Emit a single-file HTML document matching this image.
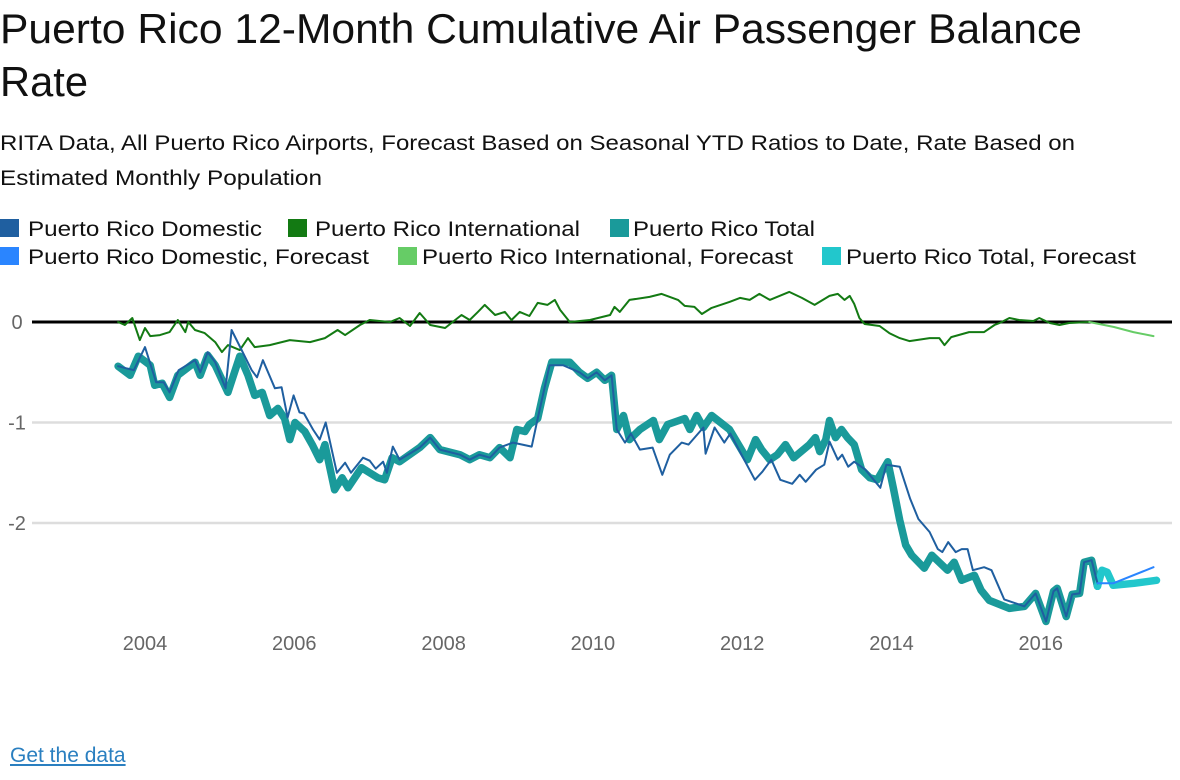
<!DOCTYPE html>
<html><head><meta charset="utf-8"><style>
body{margin:0;background:#fff;width:1180px;height:780px;overflow:hidden;font-family:"Liberation Sans",sans-serif}
a{color:#2a7fc0}
</style></head><body>
<svg width="1180" height="780" style="position:absolute;left:0;top:0">
<text x="0" y="43" font-size="42" fill="#111" textLength="1082" lengthAdjust="spacingAndGlyphs">Puerto Rico 12-Month Cumulative Air Passenger Balance</text>
<text x="0" y="96" font-size="42" fill="#111" textLength="88" lengthAdjust="spacingAndGlyphs">Rate</text>
<text x="0" y="150" font-size="21" fill="#111" textLength="1075" lengthAdjust="spacingAndGlyphs">RITA Data, All Puerto Rico Airports, Forecast Based on Seasonal YTD Ratios to Date, Rate Based on</text>
<text x="0" y="185" font-size="21" fill="#111" textLength="322" lengthAdjust="spacingAndGlyphs">Estimated Monthly Population</text>
<g id="legend"></g>
<g id="grid"></g>
<g id="plot"></g>
</svg>
<a href="#" style="position:absolute;left:10px;top:744px;font-size:21px">Get the data</a>
<script>
const yTicks=[0,-1,-2];
const xTicks=[2004,2006,2008,2010,2012,2014,2016];
const legendLabels=["Puerto Rico Domestic","Puerto Rico International","Puerto Rico Total","Puerto Rico Domestic, Forecast","Puerto Rico International, Forecast","Puerto Rico Total, Forecast"];
const totalDates=[2003.64,2003.80,2003.91,2004.07,2004.13,2004.23,2004.33,2004.44,2004.67,2004.74,2004.84,2004.94,2005.11,2005.27,2005.38,2005.47,2005.57,2005.67,2005.78,2005.87,2005.94,2006.01,2006.14,2006.24,2006.34,2006.41,2006.54,2006.64,2006.72,2006.90,2007.12,2007.21,2007.31,2007.41,2007.68,2007.82,2007.95,2008.22,2008.35,2008.48,2008.62,2008.75,2008.89,2008.98,2009.09,2009.15,2009.26,2009.35,2009.45,2009.69,2009.82,2009.93,2010.05,2010.16,2010.25,2010.32,2010.41,2010.49,2010.63,2010.81,2010.89,2011.00,2011.23,2011.30,2011.39,2011.48,2011.59,2011.83,2012.07,2012.18,2012.26,2012.37,2012.47,2012.58,2012.69,2012.90,2012.98,2013.04,2013.12,2013.17,2013.25,2013.33,2013.41,2013.50,2013.60,2013.71,2013.81,2013.95,2014.03,2014.11,2014.19,2014.27,2014.44,2014.54,2014.75,2014.84,2014.94,2015.11,2015.20,2015.31,2015.58,2015.78,2015.93,2016.07,2016.17,2016.22,2016.34,2016.42,2016.52,2016.58,2016.68,2016.76];
const totalValues=[-0.44,-0.53,-0.34,-0.43,-0.63,-0.61,-0.75,-0.53,-0.40,-0.53,-0.33,-0.43,-0.70,-0.34,-0.53,-0.73,-0.70,-0.93,-0.86,-0.96,-1.17,-1.00,-1.09,-1.22,-1.37,-1.22,-1.67,-1.55,-1.65,-1.45,-1.55,-1.57,-1.35,-1.39,-1.25,-1.15,-1.27,-1.32,-1.37,-1.32,-1.35,-1.25,-1.35,-1.07,-1.09,-1.02,-0.96,-0.66,-0.40,-0.40,-0.50,-0.56,-0.50,-0.58,-0.53,-1.07,-0.93,-1.17,-1.07,-0.98,-1.17,-1.02,-0.96,-1.07,-0.93,-1.05,-0.93,-1.07,-1.37,-1.17,-1.27,-1.37,-1.32,-1.22,-1.35,-1.22,-1.15,-1.29,-1.17,-0.98,-1.15,-1.07,-1.15,-1.22,-1.47,-1.55,-1.57,-1.39,-1.67,-1.97,-2.22,-2.32,-2.45,-2.32,-2.47,-2.39,-2.57,-2.52,-2.67,-2.77,-2.85,-2.83,-2.70,-2.98,-2.68,-2.65,-2.93,-2.71,-2.70,-2.39,-2.37,-2.63];
const totalFcDates=[2016.76,2016.82,2016.89,2016.97,2017.25,2017.55];
const totalFcValues=[-2.63,-2.47,-2.49,-2.62,-2.60,-2.57];
const domDates=[2003.64,2003.85,2004.00,2004.15,2004.25,2004.33,2004.45,2004.67,2004.74,2004.84,2004.94,2005.08,2005.16,2005.43,2005.50,2005.58,2005.74,2005.83,2005.91,2005.99,2006.07,2006.13,2006.25,2006.34,2006.42,2006.57,2006.68,2006.76,2006.92,2007.01,2007.09,2007.19,2007.24,2007.32,2007.41,2007.68,2007.82,2007.95,2008.22,2008.35,2008.48,2008.62,2008.75,2008.93,2009.18,2009.26,2009.42,2009.60,2009.82,2009.93,2010.05,2010.16,2010.25,2010.32,2010.43,2010.51,2010.63,2010.80,2010.93,2011.03,2011.19,2011.28,2011.48,2011.51,2011.63,2011.76,2011.84,2012.17,2012.27,2012.39,2012.51,2012.67,2012.77,2012.85,2012.99,2013.10,2013.17,2013.28,2013.34,2013.42,2013.50,2013.65,2013.85,2013.93,2014.11,2014.25,2014.36,2014.51,2014.62,2014.68,2014.76,2014.86,2014.94,2015.02,2015.09,2015.24,2015.34,2015.51,2015.78,2015.93,2016.07,2016.17,2016.22,2016.34,2016.42,2016.52,2016.58,2016.68,2016.76];
const domValues=[-0.44,-0.48,-0.25,-0.60,-0.60,-0.70,-0.48,-0.38,-0.50,-0.30,-0.40,-0.66,-0.08,-0.48,-0.55,-0.38,-0.66,-0.65,-0.95,-0.73,-0.90,-0.91,-1.07,-1.17,-1.00,-1.50,-1.40,-1.50,-1.35,-1.38,-1.46,-1.39,-1.50,-1.24,-1.37,-1.25,-1.15,-1.27,-1.32,-1.37,-1.32,-1.35,-1.25,-1.20,-1.24,-0.96,-0.43,-0.43,-0.50,-0.56,-0.50,-0.58,-0.53,-1.07,-1.20,-1.11,-1.27,-1.25,-1.52,-1.32,-1.20,-1.22,-1.05,-1.31,-1.05,-1.20,-1.11,-1.57,-1.49,-1.37,-1.57,-1.61,-1.52,-1.59,-1.47,-1.42,-1.19,-1.37,-1.32,-1.44,-1.39,-1.47,-1.65,-1.42,-1.44,-1.76,-1.96,-2.09,-2.26,-2.29,-2.19,-2.29,-2.26,-2.26,-2.47,-2.44,-2.47,-2.76,-2.83,-2.70,-2.98,-2.68,-2.65,-2.93,-2.71,-2.70,-2.39,-2.37,-2.60];
const domFcDates=[2016.76,2016.97,2017.51];
const domFcValues=[-2.60,-2.60,-2.44];
const intlDates=[2003.64,2003.73,2003.83,2003.93,2004.00,2004.07,2004.20,2004.33,2004.44,2004.54,2004.58,2004.67,2004.80,2004.94,2005.03,2005.11,2005.27,2005.38,2005.47,2005.67,2005.94,2006.21,2006.41,2006.58,2006.68,2006.88,2007.01,2007.28,2007.41,2007.55,2007.68,2007.82,2008.02,2008.24,2008.35,2008.46,2008.55,2008.69,2008.82,2008.91,2009.02,2009.15,2009.26,2009.39,2009.49,2009.56,2009.69,2009.96,2010.23,2010.29,2010.36,2010.49,2010.76,2010.92,2011.14,2011.23,2011.36,2011.46,2011.59,2011.83,2011.97,2012.10,2012.23,2012.37,2012.63,2012.80,2012.97,2013.17,2013.28,2013.37,2013.44,2013.50,2013.57,2013.64,2013.84,2013.97,2014.11,2014.24,2014.51,2014.64,2014.71,2014.80,2015.04,2015.24,2015.38,2015.45,2015.58,2015.71,2015.90,2015.98,2016.12,2016.25,2016.38,2016.65];
const intlValues=[0,-0.03,0.04,-0.18,-0.06,-0.14,-0.13,-0.10,0.02,-0.10,0,-0.08,-0.11,-0.20,-0.30,-0.23,-0.28,-0.16,-0.25,-0.23,-0.18,-0.20,-0.16,-0.08,-0.13,-0.03,0.02,0,0.04,-0.04,0.09,-0.03,-0.06,0.07,0.02,0.10,0.17,0.07,0.10,0.02,0.10,0.06,0.19,0.17,0.22,0.12,0,0.02,0.07,0.15,0.10,0.22,0.25,0.28,0.22,0.16,0.15,0.08,0.14,0.20,0.24,0.22,0.28,0.22,0.30,0.24,0.17,0.26,0.28,0.22,0.26,0.18,0.04,-0.02,-0.04,-0.11,-0.16,-0.19,-0.16,-0.16,-0.23,-0.15,-0.10,-0.10,-0.03,-0.01,0.04,0.02,0.01,0.04,-0.01,-0.03,-0.01,0];
const intlFcDates=[2016.65,2016.98,2017.24,2017.51];
const intlFcValues=[0,-0.05,-0.10,-0.14];

const NS="http://www.w3.org/2000/svg";
const xScale=d=>145+(d-2004)*74.65;
const yScale=v=>322-v*100.5;
function mk(tag,attrs,parent){const e=document.createElementNS(NS,tag);for(const k in attrs)e.setAttribute(k,attrs[k]);parent.appendChild(e);return e;}
const grid=document.getElementById('grid'),plot=document.getElementById('plot'),legend=document.getElementById('legend');
yTicks.forEach(t=>{
  const l=mk('line',{x1:32,x2:1172,y1:yScale(t),y2:yScale(t),stroke:t===0?'#000':'#dddddd','stroke-width':t===0?3:2.5},grid);
  
  
  const tx=mk('text',{x:17,y:yScale(t)+7,'font-size':20,fill:'#666','text-anchor':'middle'},grid);
  tx.textContent=String(t);
  
  
});
xTicks.forEach(t=>{
  const tx=mk('text',{x:xScale(t),y:650,'font-size':20,fill:'#666','text-anchor':'middle'},grid);
  tx.textContent=String(t);
  
  
});
function line(ds,vs,color,w,name){
  const p=mk('polyline',{points:ds.map((d,i)=>xScale(d).toFixed(1)+','+yScale(vs[i]).toFixed(1)).join(' '),fill:'none',stroke:color,'stroke-width':w,'stroke-linejoin':'round','stroke-linecap':'round'},plot);
  
  
}
line(intlDates,intlValues,'#137a13',2,'international-line');
line(intlFcDates,intlFcValues,'#66cc66',2,'international-forecast-line');
line(totalDates,totalValues,'#1a9a9a',7.5,'total-line');
line(totalFcDates,totalFcValues,'#22c7cc',7.5,'total-forecast-line');
line(domDates,domValues,'#1f5fa0',2,'domestic-line');
line(domFcDates,domFcValues,'#2a85ff',2,'domestic-forecast-line');
const legColors=['#1f5fa0','#137a13','#1a9a9a','#2a85ff','#66cc66','#22c7cc'];
const legSq=[0,288,610,0,398,822];
const legTx=[28,315,633,28,422,846];
const legW=[234,265,182,341,371,290];
legendLabels.forEach((lab,i)=>{
  const y=i<3?228:256;
  const r=mk('rect',{x:legSq[i],y:y-9,width:19,height:18,fill:legColors[i]},legend);
  
  
  const tx=mk('text',{x:legTx[i],y:y+8,'font-size':21,fill:'#111',textLength:legW[i],lengthAdjust:'spacingAndGlyphs'},legend);
  tx.textContent=lab;
  
  
});
</script>
</body></html>
